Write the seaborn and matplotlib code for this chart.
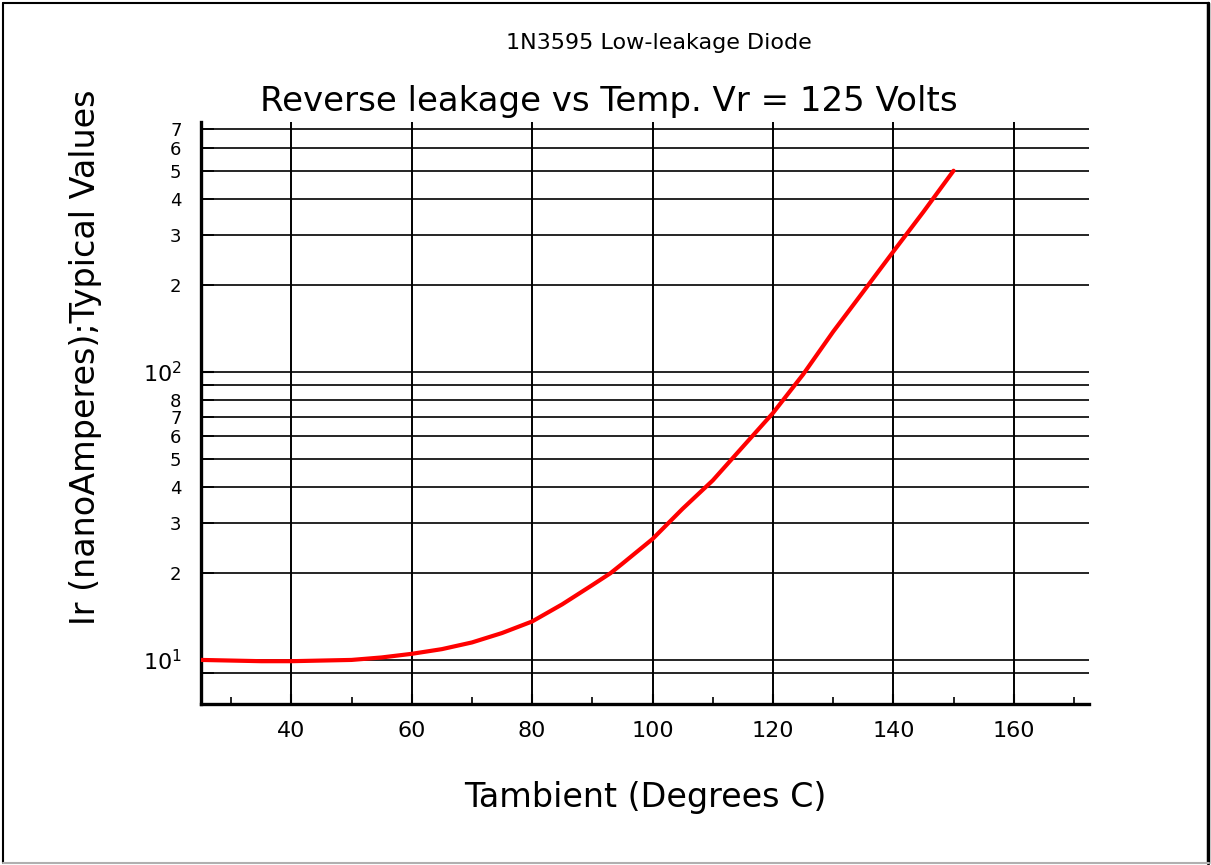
import numpy as np
import pandas as pd
import seaborn as sns
import matplotlib
matplotlib.use('Agg')
import matplotlib.pyplot as plt
from matplotlib.ticker import FixedLocator, FixedFormatter, NullFormatter
from matplotlib.lines import Line2D

# values
temp = [25, 30, 35, 40, 45, 50, 55, 60, 65, 70, 75, 80, 85, 90, 93,
        95, 100, 105, 110, 115, 120, 125, 130, 135, 140, 145, 150]
leak = [10.0, 9.95, 9.9, 9.9, 9.95, 10.0, 10.2, 10.5, 10.9, 11.5, 12.4, 13.6,
        15.6, 18.2, 20.0, 21.6, 26.3, 33.5, 42.0, 55.0, 72.0, 98.0, 138, 190,
        262, 360, 500]

x_major = [40, 60, 80, 100, 120, 140, 160]
x_minor = [30, 50, 70, 90, 110, 130, 150, 170]
y_major = [10, 100]
y_major_labels = ['$10^1$', '$10^2$']
y_minor = [9, 20, 30, 40, 50, 60, 70, 80, 90, 200, 300, 400, 500, 600, 700]
y_minor_labels = ['', '2', '3', '4', '5', '6', '7', '8', '', '2', '3', '4', '5', '6', '7']

df = pd.DataFrame({'temp': temp, 'leak': leak})

sns.set_style('white', rc={'text.color': 'black', 'axes.labelcolor': 'black',
                           'xtick.color': 'black', 'ytick.color': 'black'})
plt.rcParams['font.family'] = ['DejaVu Sans']

fig = plt.figure(figsize=(12.11, 8.65), dpi=100)
ax = fig.add_axes([201 / 1211, 1 - 704 / 865, 888 / 1211, 582.3 / 865])

sns.lineplot(data=df, x='temp', y='leak', color='red', lw=3.0, ax=ax, zorder=5)

ax.set_yscale('log')
ax.set_xlim(25, 172.5)
ax.set_ylim(7.03, 740)

ax.xaxis.set_major_locator(FixedLocator(x_major))
ax.xaxis.set_minor_locator(FixedLocator(x_minor))
ax.xaxis.set_minor_formatter(NullFormatter())
ax.yaxis.set_major_locator(FixedLocator(y_major))
ax.yaxis.set_major_formatter(FixedFormatter(y_major_labels))
ax.yaxis.set_minor_locator(FixedLocator(y_minor))
ax.yaxis.set_minor_formatter(FixedFormatter(y_minor_labels))

ax.grid(True, which='major', axis='x', color='black', lw=1.4)
ax.grid(True, which='both', axis='y', color='black', lw=1.2)

ax.tick_params(axis='x', which='major', direction='in', length=7, width=1.5,
               labelsize=16, pad=12, bottom=True)
ax.tick_params(axis='x', which='minor', direction='in', length=5, width=1.2,
               bottom=True)
ax.tick_params(axis='y', which='major', direction='in', length=9, width=1.5,
               labelsize=16, pad=14, left=True)
ax.tick_params(axis='y', which='minor', direction='in', length=9, width=1.2,
               labelsize=13, pad=14, left=True)

for s in ['top', 'right']:
    ax.spines[s].set_visible(False)
for s in ['left', 'bottom']:
    ax.spines[s].set_color('black')
    ax.spines[s].set_linewidth(2.4)

ax.set_xlabel('Tambient (Degrees C)', fontsize=24, va='center')
ax.xaxis.set_label_coords(0.5, -0.16)
ax.set_ylabel('Ir (nanoAmperes);Typical Values', fontsize=24, va='center')
ax.yaxis.set_label_coords(-0.1306, 0.596)

fig.text(659 / 1211, 1 - 43 / 865, '1N3595 Low-leakage Diode', fontsize=16,
         ha='center', va='center')
fig.text(609 / 1211, 1 - 101 / 865, 'Reverse leakage vs Temp. Vr = 125 Volts',
         fontsize=24.5, ha='center', va='center')

# outer frame
fig.add_artist(Line2D([3 / 1211, 3 / 1211], [2 / 865, 862 / 865], color='black', lw=1.5))
fig.add_artist(Line2D([3 / 1211, 1209 / 1211], [862 / 865, 862 / 865], color='black', lw=1.5))
fig.add_artist(Line2D([1208 / 1211, 1208 / 1211], [2 / 865, 862 / 865], color='black', lw=2.5))
fig.add_artist(Line2D([3 / 1211, 1209 / 1211], [2 / 865, 2 / 865], color='#b0b0b0', lw=1.5))

fig.savefig('out.png', dpi=100)
